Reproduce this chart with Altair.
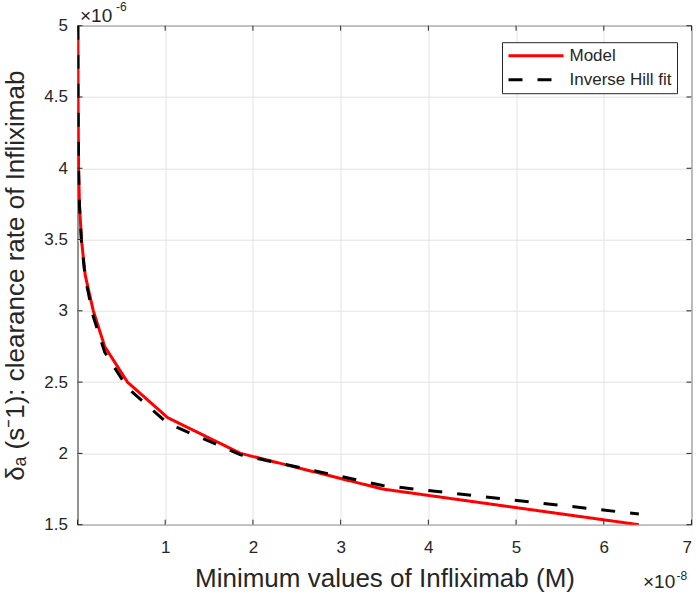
import altair as alt
import pandas as pd

# x: minimum values of Infliximab (units of 1e-8 M)
# y: clearance rate delta_a (units of 1e-6 s^-1)
model_x = [0.004, 0.006, 0.012, 0.022, 0.045, 0.088, 0.18, 0.31, 0.57, 1.03, 1.86, 3.48, 6.40]
model_y = [5.0, 4.5, 4.0, 3.75, 3.5, 3.25, 3.0, 2.75, 2.5, 2.25, 2.0, 1.75, 1.5]
fit_x = [0.004, 0.006, 0.012, 0.022, 0.045, 0.088, 0.18, 0.31, 0.57, 1.03, 1.86, 3.48, 6.40]
fit_y = [5.0, 4.5, 4.0, 3.74, 3.49, 3.23, 2.96, 2.71, 2.46, 2.21, 1.99, 1.775, 1.575]
series_names = ["Model", "Inverse Hill fit"]
x_ticks = [0, 1, 2, 3, 4, 5, 6, 7]
x_labels = [1, 2, 3, 4, 5, 6, 7]
y_ticks = [1.5, 2, 2.5, 3, 3.5, 4, 4.5, 5]

df = pd.concat([
    pd.DataFrame({"x": model_x, "y": model_y, "series": series_names[0], "order": range(len(model_x))}),
    pd.DataFrame({"x": fit_x, "y": fit_y, "series": series_names[1], "order": range(len(fit_x))}),
])

W, H = 614, 499
FONT = "Liberation Sans"
INK = "#262626"
xs = alt.Scale(domain=[0, 7], nice=False, zero=False)
ys = alt.Scale(domain=[1.5, 5], nice=False, zero=False)

color = alt.Color("series:N", scale=alt.Scale(domain=series_names, range=["#ff0000", "#000000"]),
                  legend=alt.Legend(title=None))
dash = alt.StrokeDash("series:N", scale=alt.Scale(domain=series_names, range=[[1, 0], [14, 15]]),
                      legend=alt.Legend(title=None))

xaxis = alt.Axis(values=x_labels, format="d", title="Minimum values of Infliximab (M)", grid=True,
                 ticks=False, tickSize=0, domain=False, labelFontSize=17, labelFont=FONT,
                 labelColor=INK, labelBaseline="alphabetic", labelPadding=28,
                 titleFont=FONT, titleFontSize=26, titleFontWeight="normal", titleColor=INK,
                 titleBaseline="alphabetic", titleY=62, titleX=W / 2,
                 gridColor="#e3e3e3", gridWidth=1)
yaxis = alt.Axis(values=y_ticks, format="~g", title="δₐ (s⁻1): clearance rate of Infliximab", grid=True,
                 ticks=False, tickSize=0, domain=False, labelFontSize=17, labelFont=FONT,
                 labelColor=INK, labelPadding=10, labelFlush=False,
                 titleFont=FONT, titleFontSize=26, titleFontWeight="normal", titleColor=INK,
                 titleAngle=270, titleBaseline="alphabetic", titleX=-54, titleY=H / 2,
                 titleAlign="center", gridColor="#e3e3e3", gridWidth=1)

base = alt.Chart(df)
red = base.transform_filter(alt.datum.series == series_names[0]).mark_line(strokeWidth=3, clip=True).encode(
    x=alt.X("x:Q", scale=xs, axis=xaxis),
    y=alt.Y("y:Q", scale=ys, axis=yaxis),
    color=color, strokeDash=dash, order="order:Q")
black = base.transform_filter(alt.datum.series == series_names[1]).mark_line(strokeWidth=3, clip=True).encode(
    x=alt.X("x:Q", scale=xs),
    y=alt.Y("y:Q", scale=ys),
    color=color, strokeDash=dash, order="order:Q")

xt = pd.DataFrame({"x": x_ticks})
yt = pd.DataFrame({"y": y_ticks})
tick_b = alt.Chart(xt).mark_rule(color=INK, strokeWidth=1).encode(
    x=alt.X("x:Q", scale=xs), y=alt.value(H), y2=alt.value(H - 5))
tick_t = alt.Chart(xt).mark_rule(color=INK, strokeWidth=1).encode(
    x=alt.X("x:Q", scale=xs), y=alt.value(0), y2=alt.value(5))
tick_l = alt.Chart(yt).mark_rule(color=INK, strokeWidth=1).encode(
    y=alt.Y("y:Q", scale=ys), x=alt.value(0), x2=alt.value(5))
tick_r = alt.Chart(yt).mark_rule(color=INK, strokeWidth=1).encode(
    y=alt.Y("y:Q", scale=ys), x=alt.value(W), x2=alt.value(W - 5))

def label(txt, px, py, size):
    return alt.Chart(pd.DataFrame({"t": [txt]})).mark_text(
        font=FONT, fontSize=size, color=INK, align="left", baseline="alphabetic").encode(
        text="t:N", x=alt.value(px), y=alt.value(py))

mult = (label("×10", 2.5, -4.2, 19) + label("-6", 38.5, -14.5, 12)
        + label("×10", 565.5, 562, 19) + label("-8", 599, 554, 12))

chart = alt.layer(red, black, tick_b, tick_t, tick_l, tick_r, mult).properties(
    width=W, height=H,
    autosize=alt.AutoSizeParams(type="none"),
    padding={"left": 77.5, "top": 25.7, "right": 4.5, "bottom": 70.3},
).configure_view(stroke=INK, strokeWidth=1).configure_legend(
    orient="none", legendX=424.5, legendY=16.5, direction="vertical",
    strokeColor=INK, fillColor="white", padding=5,
    symbolType="M-5,0H5", symbolSize=121, symbolStrokeWidth=3, symbolOffset=20.5,
    labelFont=FONT, labelFontSize=17, labelColor=INK, labelOffset=25,
    rowPadding=6, cornerRadius=0,
)

chart.save("out.html", embed_options={"renderer": "svg", "actions": False})
